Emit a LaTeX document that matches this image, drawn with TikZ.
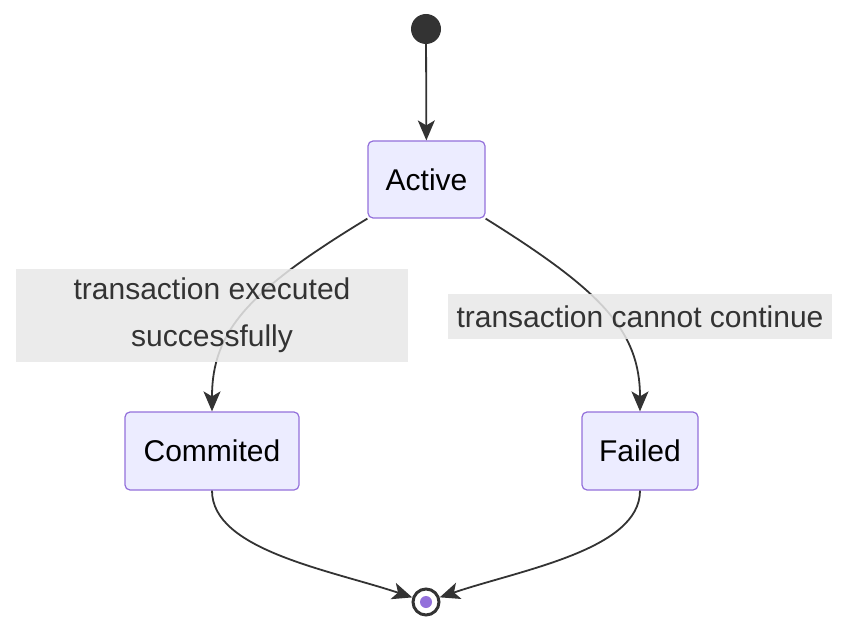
\documentclass[tikz,border=0pt]{standalone}
\usepackage{fontspec}
\setmainfont{Liberation Sans}
\usetikzlibrary{arrows.meta}
\definecolor{boxfill}{HTML}{ECECFF}
\definecolor{boxline}{HTML}{9370DB}
\definecolor{ink}{HTML}{333333}
\definecolor{lblbg}{HTML}{E8E8E8}
\begin{document}
\begin{tikzpicture}[x=1pt,y=-1pt,
  state/.style={draw=boxline,fill=boxfill,rounded corners=5pt,line width=1.2pt,inner sep=0pt,font=\fontsize{30}{36}\selectfont,text=black},
  lbl/.style={fill=lblbg,fill opacity=0.85,text opacity=1,font=\fontsize{30}{47}\selectfont,text=ink,inner sep=0pt,align=center},
  edge/.style={draw=ink,line width=1.8pt,-{Stealth[length=20pt,width=17pt,inset=5pt]}}]
\useasboundingbox (0,0) rectangle (864,644);
\node[circle,fill=ink,minimum size=30pt,inner sep=0pt] (start) at (426,29) {};
\node[state,minimum width=117pt,minimum height=77pt] (active) at (426.5,179.5) {Active};
\node[state,minimum width=174pt,minimum height=78pt] (com) at (212,451) {Commited};
\node[state,minimum width=116pt,minimum height=78pt] (fail) at (640,451) {Failed};
\node[circle,draw=ink,line width=3pt,fill=white,minimum size=26pt,inner sep=0pt] (end) at (426,602) {};
\node[circle,fill=boxline,minimum size=12pt,inner sep=0pt] at (end) {};
\draw[edge] (start) -- (active);
\draw[edge] (active.south west) .. controls (250,290) and (212,330) .. (com.north);
\draw[edge] (active.south east) .. controls (600,290) and (640,330) .. (fail.north);
\draw[edge] (com.south) .. controls (212,550) and (330,570) .. (end);
\draw[edge] (fail.south) .. controls (640,550) and (520,570) .. (end);
\node[lbl,minimum width=392pt,minimum height=93pt] at (212,315.5) {transaction executed\\successfully};
\node[lbl,minimum width=384pt,minimum height=45pt] at (640,316.5) {transaction cannot continue};
\end{tikzpicture}
\end{document}
